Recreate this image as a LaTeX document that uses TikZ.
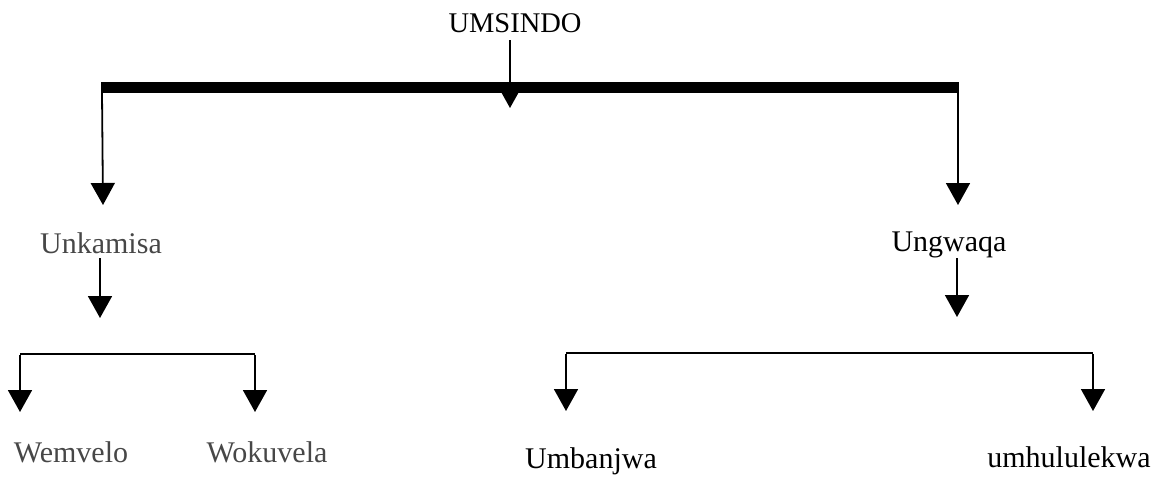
\documentclass[tikz,border=0pt]{standalone}
\usepackage{fontspec}
\setmainfont{Liberation Serif}
\usetikzlibrary{arrows.meta}
\begin{document}
\begin{tikzpicture}[x=1pt,y=-1pt,
  lbl/.style={anchor=base,inner sep=0pt,font=\fontsize{30}{36}\selectfont},
  lbldim/.style={lbl,text=black!72},
  conn/.style={line width=1.8pt,-{Triangle[length=22pt,width=24pt]}},
  plain/.style={line width=1.8pt},
  bar/.style={line width=11pt}]
\useasboundingbox (0,0) rectangle (1165,480);
% labels
\node[lbl,font=\fontsize{28.5}{34}\selectfont] (root) at (515,32) {UMSINDO};
\node[lbldim] (unk) at (101,253) {Unkamisa};
\node[lbl] (ung) at (949,251) {Ungwaqa};
\node[lbldim] (wem) at (71,462) {Wemvelo};
\node[lbldim] (wok) at (267,462) {Wokuvela};
\node[lbl] (umb) at (591,468) {Umbanjwa};
\node[lbl] (umh) at (1069,467) {umhululekwa};
% junction coordinates
\coordinate (barL) at (102,87.5);
\coordinate (barR) at (958,87.5);
\coordinate (rootS) at (510,40);
\coordinate (rootT) at (510,108);
\coordinate (unkT) at (103,205);
\coordinate (ungT) at (958,205);
\coordinate (unkS) at (100,258);
\coordinate (unkE) at (100,318);
\coordinate (ungS) at (957,258);
\coordinate (ungE) at (957,317);
\coordinate (lbL) at (20,354);
\coordinate (lbR) at (255,354);
\coordinate (wemT) at (20,412);
\coordinate (wokT) at (255,412);
\coordinate (rbL) at (566,353);
\coordinate (rbR) at (1093,353);
\coordinate (umbT) at (566,411);
\coordinate (umhT) at (1093,411);
% main bar
\draw[bar] ([xshift=-0.9pt]barL) -- ([xshift=0.9pt]barR);
\draw[conn] (rootS) -- (rootT);
\draw[conn] ([yshift=-5pt]barL |- barL) -- (unkT);
\draw[conn] (barR) -- (ungT);
% second level
\draw[conn] (unkS) -- (unkE);
\draw[conn] (ungS) -- (ungE);
% brackets
\draw[plain] (lbL) -- (lbR);
\draw[conn] ([yshift=-0.9pt]lbL) -- (wemT);
\draw[conn] ([yshift=-0.9pt]lbR) -- (wokT);
\draw[plain] (rbL) -- (rbR);
\draw[conn] ([yshift=-0.9pt]rbL) -- (umbT);
\draw[conn] ([yshift=-0.9pt]rbR) -- (umhT);
\end{tikzpicture}
\end{document}
